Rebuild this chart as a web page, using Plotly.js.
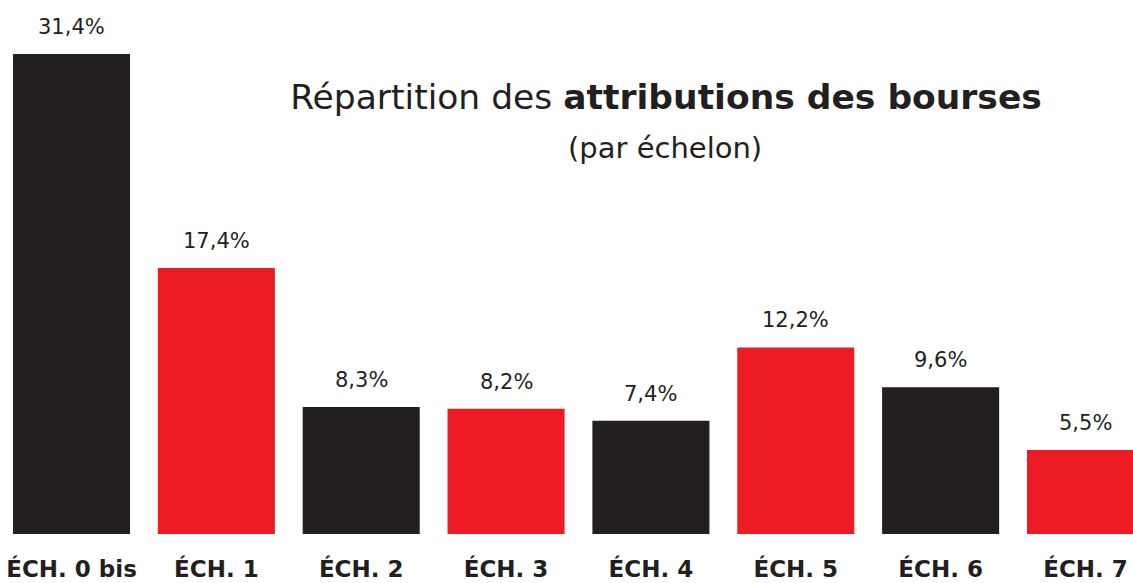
<!DOCTYPE html>
<html>
<head>
<meta charset="utf-8">
<script src="https://cdn.plot.ly/plotly-3.0.1.min.js"></script>
<style>
  html, body { margin: 0; padding: 0; background: #fff; }
  #chart { width: 1133px; height: 583px; }
</style>
</head>
<body>
<div id="chart"></div>
<script>
// data
const echelons = ['ÉCH. 0 bis', 'ÉCH. 1', 'ÉCH. 2', 'ÉCH. 3', 'ÉCH. 4', 'ÉCH. 5', 'ÉCH. 6', 'ÉCH. 7'];
const parts = [31.4, 17.4, 8.3, 8.2, 7.4, 12.2, 9.6, 5.5];

const DARK = '#231f20';
const RED = '#ed1c24';
const barColors = [DARK, RED, DARK, RED, DARK, RED, DARK, RED];
const FONT = 'DejaVu Sans, sans-serif';

// labels like "31,4%"
const labels = parts.map(v => v.toFixed(1).replace('.', ',') + '%');

const trace = {
    type: 'bar',
    x: echelons.map((_, i) => i),
    y: parts,
    width: 0.808,
    marker: { color: barColors, line: { width: 0 } },
    hoverinfo: 'skip'
};

// value labels above the bars
const valueNotes = parts.map((v, i) => ({
    x: i,
    y: v,
    xref: 'x',
    yref: 'y',
    text: labels[i],
    showarrow: false,
    yanchor: 'bottom',
    yshift: 13,
    font: { family: FONT, size: 21, color: DARK }
}));

const layout = {
    width: 1133,
    height: 583,
    margin: { l: 0, r: 0, t: 0, b: 49 },
    paper_bgcolor: '#fff',
    plot_bgcolor: '#fff',
    showlegend: false,
    title: {
        text: 'Répartition des <b>attributions des bourses</b>',
        x: 666 / 1133,
        xanchor: 'center',
        y: 1 - 97 / 583,
        yanchor: 'middle',
        font: { family: FONT, size: 34.5, color: DARK }
    },
    xaxis: {
        range: [-0.4936, 7.328],
        tickmode: 'array',
        tickvals: echelons.map((_, i) => i),
        ticktext: echelons.map(t => '<b>' + t + '</b>'),
        showgrid: false,
        zeroline: false,
        showline: false,
        ticks: '',
        ticklabelstandoff: 19,
        tickfont: { family: FONT, size: 23, color: DARK }
    },
    yaxis: {
        range: [0, 34.93],
        visible: false,
        showgrid: false,
        zeroline: false
    },
    annotations: valueNotes.concat([{
        text: '(par échelon)',
        xref: 'paper',
        yref: 'paper',
        x: 665 / 1133,
        y: (534 - 148) / 534,
        xanchor: 'center',
        yanchor: 'middle',
        showarrow: false,
        font: { family: FONT, size: 29, color: DARK }
    }])
};

Plotly.newPlot('chart', [trace], layout, { displayModeBar: false, staticPlot: true });
</script>
</body>
</html>
